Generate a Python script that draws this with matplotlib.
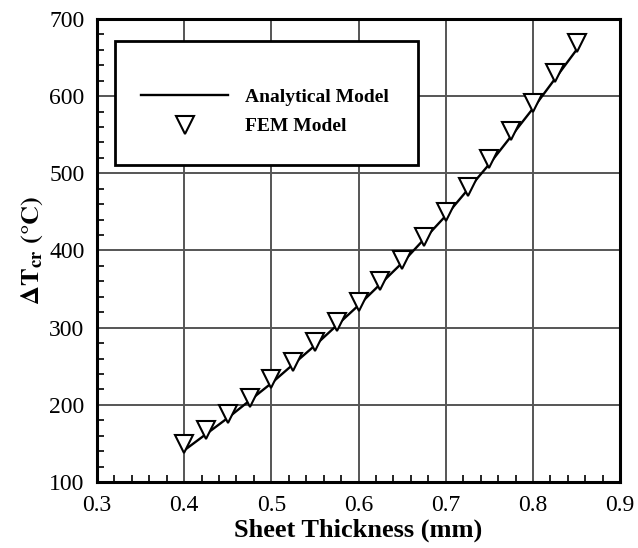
import numpy as np
import matplotlib.pyplot as plt
from matplotlib.ticker import MultipleLocator
from matplotlib.patches import Rectangle

plt.rcParams['font.family'] = ['Liberation Serif', 'DejaVu Serif']
plt.rcParams['mathtext.fontset'] = 'stix'

# Analytical model (line)
thick_line = [0.40, 0.45, 0.50, 0.55, 0.60, 0.65, 0.70, 0.75, 0.80, 0.85]
dT_line = [141, 183, 228, 277, 329, 384, 445, 512, 584, 660]

# FEM model (triangles)
thick_fem = [0.400, 0.425, 0.450, 0.475, 0.500, 0.525, 0.550, 0.575, 0.600, 0.625,
             0.650, 0.675, 0.700, 0.725, 0.750, 0.775, 0.800, 0.825, 0.850]
dT_fem = [149, 168, 188, 209, 233, 256, 281, 307, 333, 361,
          388, 418, 450, 482, 518, 555, 591, 630, 669]

fig = plt.figure(figsize=(6.38, 5.48), dpi=100)
ax = fig.add_axes([0.152, 0.1204, 0.820, 0.845])

ax.plot(thick_line, dT_line, color='black', lw=1.7, label='Analytical Model', zorder=3)
ax.plot(thick_fem, dT_fem, linestyle='none', marker='v', markersize=12.5,
        markerfacecolor='white', markeredgecolor='black', markeredgewidth=1.5,
        label='FEM Model', zorder=4)

ax.set_xlim(0.3, 0.9)
ax.set_ylim(100, 700)
ax.xaxis.set_major_locator(MultipleLocator(0.1))
ax.xaxis.set_minor_locator(MultipleLocator(0.02))
ax.yaxis.set_major_locator(MultipleLocator(100))
ax.yaxis.set_minor_locator(MultipleLocator(20))
ax.xaxis.set_major_formatter(plt.FuncFormatter(lambda v, p: '%.1f' % v))

ax.grid(True, which='major', color='#555555', lw=1.4)
ax.set_axisbelow(True)
ax.tick_params(which='both', direction='in', top=False, right=False, labelsize=17)
ax.tick_params(which='major', length=0, pad=9)
ax.tick_params(which='minor', length=5, width=1.2)
for s in ax.spines.values():
    s.set_linewidth(2.2)

ax.set_xlabel('Sheet Thickness (mm)', fontsize=19, fontweight='bold', labelpad=2)
ax.set_ylabel(r'$\mathbf{\Delta T_{cr}}$ $\mathbf{(°C)}$', fontsize=19, labelpad=3)

# legend box drawn separately so the padding matches
box = Rectangle((0.0344, 0.685), 0.58, 0.268, transform=ax.transAxes,
                facecolor='white', edgecolor='black', lw=2.0, zorder=5)
ax.add_patch(box)
leg = ax.legend(loc='upper left', bbox_to_anchor=(0.084, 0.85),
                prop={'weight': 'bold', 'size': 14}, frameon=False,
                borderpad=0, handlelength=4.5, handletextpad=0.85,
                labelspacing=0.6, borderaxespad=0)
leg.set_zorder(6)

plt.savefig('out.png', dpi=100)
